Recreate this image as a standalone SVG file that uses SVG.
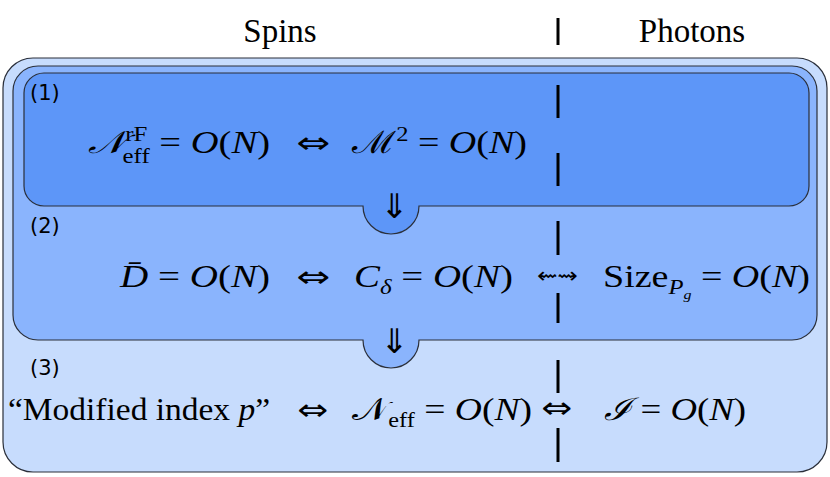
<svg xmlns="http://www.w3.org/2000/svg" width="830" height="477" viewBox="0 0 830 477">
<style>
.box{stroke:#2a2f3a;stroke-width:1.2}
.m{font-family:"Liberation Serif","DejaVu Serif","Times New Roman",serif;font-size:31px;fill:#000}
.i{font-style:italic}
.s{font-size:20px}
.ar{font-family:"DejaVu Sans",sans-serif;font-size:30px}
.lab{font-family:"DejaVu Sans",sans-serif;font-size:21px}
.t{font-family:"Liberation Serif","DejaVu Serif",serif;font-size:33px;text-anchor:middle}
.dash{stroke:#000;stroke-width:3}
</style>
<text class="t" x="280" y="42">Spins</text>
<text class="t" x="692" y="42">Photons</text>
<g id="outer"><rect class="box" x="3" y="58" width="824" height="414" rx="30" fill="#c7dcfd"/></g>
<g id="box2"><path class="box" fill="#8ab4fd" d="M38 66 H792 A25 25 0 0 1 817 91 V315 A25 25 0 0 1 792 340 H419 A28 28 0 0 1 363 340 H38 A25 25 0 0 1 13 315 V91 A25 25 0 0 1 38 66 Z"/></g>
<g id="box1"><path class="box" fill="#5d96f8" d="M44 73 H789 A20 20 0 0 1 809 93 V186 A20 20 0 0 1 789 206 H419 A28 28 0 0 1 363 206 H44 A20 20 0 0 1 24 186 V93 A20 20 0 0 1 44 73 Z"/></g>
<g id="labels">
<text class="lab" x="30" y="100">(1)</text>
<text class="lab" x="30" y="233">(2)</text>
<text class="lab" x="30" y="375">(3)</text>
</g>
<g id="row1">
<text class="m" x="88" y="153" textLength="182" lengthAdjust="spacingAndGlyphs"><tspan class="i">𝒩</tspan><tspan class="s" dy="-12">rF</tspan><tspan class="s" dx="-20" dy="22">eff</tspan><tspan dy="-10"> = </tspan><tspan class="i">O</tspan>(<tspan class="i">N</tspan>)</text>
<text class="ar" x="296" y="153" textLength="34" lengthAdjust="spacingAndGlyphs">⇔</text>
<text class="m" x="352" y="153" textLength="175" lengthAdjust="spacingAndGlyphs"><tspan>ℳ</tspan><tspan class="s" dy="-12">2</tspan><tspan dy="12"> = </tspan><tspan class="i">O</tspan>(<tspan class="i">N</tspan>)</text>
<text class="ar" x="380" y="218" style="font-size:34px">⇓</text>
</g>
<g id="row2">
<text class="m" x="120" y="287" textLength="150" lengthAdjust="spacingAndGlyphs"><tspan class="i">D̄</tspan> = <tspan class="i">O</tspan>(<tspan class="i">N</tspan>)</text>
<text class="ar" x="296" y="287" textLength="34" lengthAdjust="spacingAndGlyphs">⇔</text>
<text class="m" x="354" y="287" textLength="159" lengthAdjust="spacingAndGlyphs"><tspan class="i">C</tspan><tspan class="s i" dy="7">δ</tspan><tspan dy="-7"> = </tspan><tspan class="i">O</tspan>(<tspan class="i">N</tspan>)</text>
<text class="ar" x="537" y="283" textLength="41" lengthAdjust="spacingAndGlyphs" style="font-size:22px">⇜⇝</text>
<text class="m" x="603" y="287" textLength="207" lengthAdjust="spacingAndGlyphs">Size<tspan class="s i" dy="7">P</tspan><tspan class="i" style="font-size:13px" dy="5">g</tspan><tspan dy="-12"> = </tspan><tspan class="i">O</tspan>(<tspan class="i">N</tspan>)</text>
<text class="ar" x="380" y="353" style="font-size:34px">⇓</text>
</g>
<g id="row3">
<text class="m" x="8" y="420" textLength="262" lengthAdjust="spacingAndGlyphs">“Modified index <tspan class="i">p</tspan>”</text>
<text class="ar" x="297" y="420" textLength="31" lengthAdjust="spacingAndGlyphs">⇔</text>
<text class="m" x="352" y="420" textLength="180" lengthAdjust="spacingAndGlyphs"><tspan>𝒩</tspan><tspan class="s" dy="7">eff</tspan><tspan dy="-7"> = </tspan><tspan class="i">O</tspan>(<tspan class="i">N</tspan>)</text>
<text class="ar" x="541" y="418" textLength="31" lengthAdjust="spacingAndGlyphs">⇔</text>
<text class="m" x="604" y="420" textLength="142" lengthAdjust="spacingAndGlyphs"><tspan class="i">ℐ</tspan> = <tspan class="i">O</tspan>(<tspan class="i">N</tspan>)</text>
</g>
<g id="connectors">
<path class="dash" d="M558 18V45M558 85V118M558 153V186M558 221V255M558 293V323M558 360V393M558 428V462"/>
</g>
</svg>
